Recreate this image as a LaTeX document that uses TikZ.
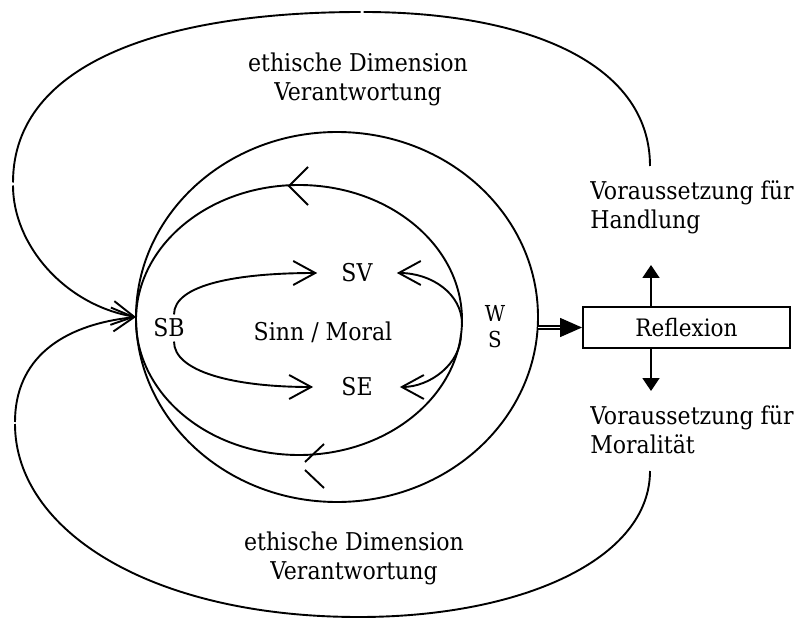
\documentclass[tikz,border=0pt]{standalone}
\usepackage{fontspec}
\setmainfont{DejaVu Serif Condensed}
\usetikzlibrary{arrows.meta,shapes.geometric}

\tikzset{
	lbl/.style={font=\fontsize{24.5}{29}\selectfont},
	ring/.style={ellipse,draw,inner sep=0pt,outer sep=0pt},
	barb/.style={-{Straight Barb[length=22pt,width=24pt]}},
	fulltip/.style={-{Triangle[length=13pt,width=17pt]}}
}

\begin{document}
\begin{tikzpicture}[x=1pt,y=-1pt,line width=1.9pt]
	\useasboundingbox (0,0) rectangle (803,620);

	\node[ring,minimum width=402pt,minimum height=370pt] (outer) at (337,317) {};
	\node[ring,minimum width=326pt,minimum height=270pt] (inner) at (299,320) {};

	\node[lbl] (SB) at (169,328) {SB};
	\node[lbl] (SV) at (357,273) {SV};
	\node[lbl] (SE) at (357,387) {SE};
	\node[lbl] (sinn) at (323,332) {Sinn / Moral};
	\node[lbl,align=center,font=\fontsize{22}{26}\selectfont] (WS) at (495,327) {W\\S};
	\node[lbl,draw,minimum width=207pt,minimum height=41pt,font=\fontsize{24}{28}\selectfont] (refl) at (686.5,327.5) {Reflexion};
	\node[lbl,align=left,anchor=west] (hand) at (586,207) {Voraussetzung für\\Handlung};
	\node[lbl,align=left,anchor=west] (moral) at (586,430) {Voraussetzung für\\Moralität};
	\node[lbl,align=center] (topdim) at (358,79) {ethische Dimension\\Verantwortung};
	\node[lbl,align=center] (botdim) at (354,558) {ethische Dimension\\Verantwortung};

	\coordinate (topend) at (650,166);
	\coordinate (botend) at (650,471);
	\coordinate (up) at (651,265);
	\coordinate (dn) at (651,391);
	\coordinate (ri1) at (462,324);
	\coordinate (ri2) at (461,334);

	% outer loops, drawn in pieces (small gaps as in the sketch)
	\draw[shorten >=1.5pt] (topend) .. controls (650,60) and (520,12) .. (362,12);
	\draw[shorten <=1.5pt,shorten >=1.5pt] (362,12) .. controls (170,12) and (13,60) .. (13,184);
	\draw[barb,shorten <=1.5pt] (13,184) .. controls (13,245) and (65,305) .. (outer.west);
	\draw[shorten >=1pt] (botend) .. controls (650,560) and (520,617) .. (359,617)
		.. controls (150,617) and (15,530) .. (15,423);
	\draw[barb,shorten <=1pt] (15,423) .. controls (15,360) and (60,325) .. (outer.west);

	% arrows on the rings
	\draw (308,167) -- (289,186) -- (308,205);
	\draw (305,462) -- (324,444);
	\draw (305,470) -- (324,488);

	\draw[barb] ([xshift=5pt]SB.north) .. controls +(0,-30) and +(-80,0) .. ([xshift=-20pt]SV.west);
	\draw[barb] ([xshift=5pt]SB.south) .. controls +(0,30) and +(-80,0) .. ([xshift=-24pt]SE.west);
	\draw[barb] (ri1) .. controls +(0,-30) and +(35,0) .. ([xshift=20pt]SV.east);
	\draw[barb] (ri2) .. controls +(0,30) and +(30,0) .. ([xshift=23pt]SE.east);

	\draw[double,double distance=1.3pt,line width=1.4pt,-{Triangle[length=22pt,width=19pt]}] (outer.east |- refl.west) -- (refl.west);
	\draw[fulltip] (refl.north -| up) -- (up);
	\draw[fulltip] (refl.south -| dn) -- (dn);
\end{tikzpicture}
\end{document}
